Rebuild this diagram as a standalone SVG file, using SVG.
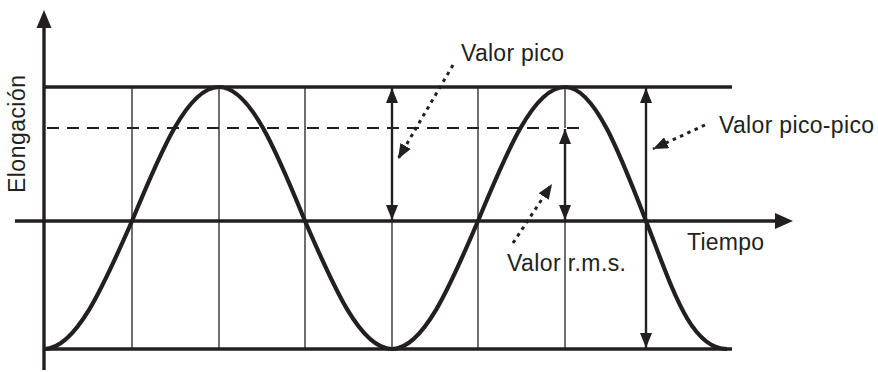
<svg xmlns="http://www.w3.org/2000/svg" width="878" height="372" viewBox="0 0 878 372">
<style>
.txt{font-family:"Liberation Sans",Arial,sans-serif;font-size:23px;fill:#231f20}
.thick{stroke:#231f20;stroke-width:3.4;fill:none}
.thin{stroke:#231f20;stroke-width:1.3;fill:none}
.arr{stroke:#231f20;stroke-width:2.4;fill:none}
.dot{stroke:#231f20;stroke-width:3;fill:none;stroke-dasharray:3.5 4.5}
</style>
<defs>
<marker id="ah" viewBox="0 0 15 12" refX="15" refY="6" markerWidth="15" markerHeight="12" markerUnits="userSpaceOnUse" orient="auto-start-reverse">
<path d="M0,0 L15,6 L0,12 Z" fill="#231f20"/>
</marker>
<marker id="ph" viewBox="0 0 15 12" refX="15" refY="6" markerWidth="15" markerHeight="12" markerUnits="userSpaceOnUse" orient="auto">
<path d="M0,0 L15,6 L0,12 Z" fill="#231f20"/>
</marker>
</defs>
<rect width="878" height="372" fill="#ffffff"/>
<g id="grid">
<line class="thin" x1="132" y1="87" x2="132" y2="349"/>
<line class="thin" x1="219" y1="87" x2="219" y2="349"/>
<line class="thin" x1="305" y1="87" x2="305" y2="349"/>
<line class="thin" x1="392" y1="221" x2="392" y2="349"/>
<line class="thin" x1="478" y1="87" x2="478" y2="349"/>
<line class="thin" x1="565" y1="87" x2="565" y2="128"/>
<line class="thin" x1="565" y1="221" x2="565" y2="349"/>
<line x1="47" y1="128" x2="583" y2="128" stroke="#231f20" stroke-width="2" stroke-dasharray="12 8"/>
<line class="thick" x1="44" y1="87" x2="732" y2="87"/>
<line class="thick" x1="44" y1="349" x2="732" y2="349"/>
</g>
<g id="axes">
<line class="thick" x1="44" y1="370" x2="44" y2="26"/>
<path d="M44,10 L51.5,28 L36.5,28 Z" fill="#231f20"/>
<line class="thick" x1="15" y1="221" x2="776" y2="221"/>
<path d="M793,221 L775,213 L775,229 Z" fill="#231f20"/>
</g>
<g id="wave">
<path d="M44,349 C75.8,349 103.3,286.6 132,221 C160.4,152.4 187.5,87 219,87 C250.1,87 277,152.4 305,221 C333.4,286.6 360.5,349 392,349 C423.1,349 450,286.6 478,221 C506.4,152.4 533.5,87 565,87 C594.3,87 619.6,152.4 646,221 C671.8,286.6 690,349 727,349" stroke="#231f20" stroke-width="4.2" fill="none"/>
</g>
<g id="connectors">
<line class="arr" x1="392" y1="88" x2="392" y2="220" marker-start="url(#ah)" marker-end="url(#ah)"/>
<line class="arr" x1="565" y1="129" x2="565" y2="220" marker-start="url(#ah)" marker-end="url(#ah)"/>
<line class="arr" x1="646" y1="88" x2="646" y2="348" marker-start="url(#ah)" marker-end="url(#ah)"/>
<line class="dot" x1="453" y1="65" x2="398" y2="159" marker-end="url(#ph)"/>
<line class="dot" x1="513" y1="243" x2="552" y2="184" marker-end="url(#ph)"/>
<line class="dot" x1="705" y1="125" x2="653" y2="149" marker-end="url(#ph)"/>
</g>
<g id="labels">
<text class="txt" x="461" y="61" textLength="103" lengthAdjust="spacing">Valor pico</text>
<text class="txt" x="719" y="133" textLength="155" lengthAdjust="spacing">Valor pico-pico</text>
<text class="txt" x="687" y="250" textLength="77" lengthAdjust="spacing">Tiempo</text>
<text class="txt" x="507" y="271" textLength="119" lengthAdjust="spacing">Valor r.m.s.</text>
<text class="txt" transform="translate(25,193) rotate(-90)" x="0" y="0" textLength="118" lengthAdjust="spacing">Elongación</text>
</g>
</svg>
